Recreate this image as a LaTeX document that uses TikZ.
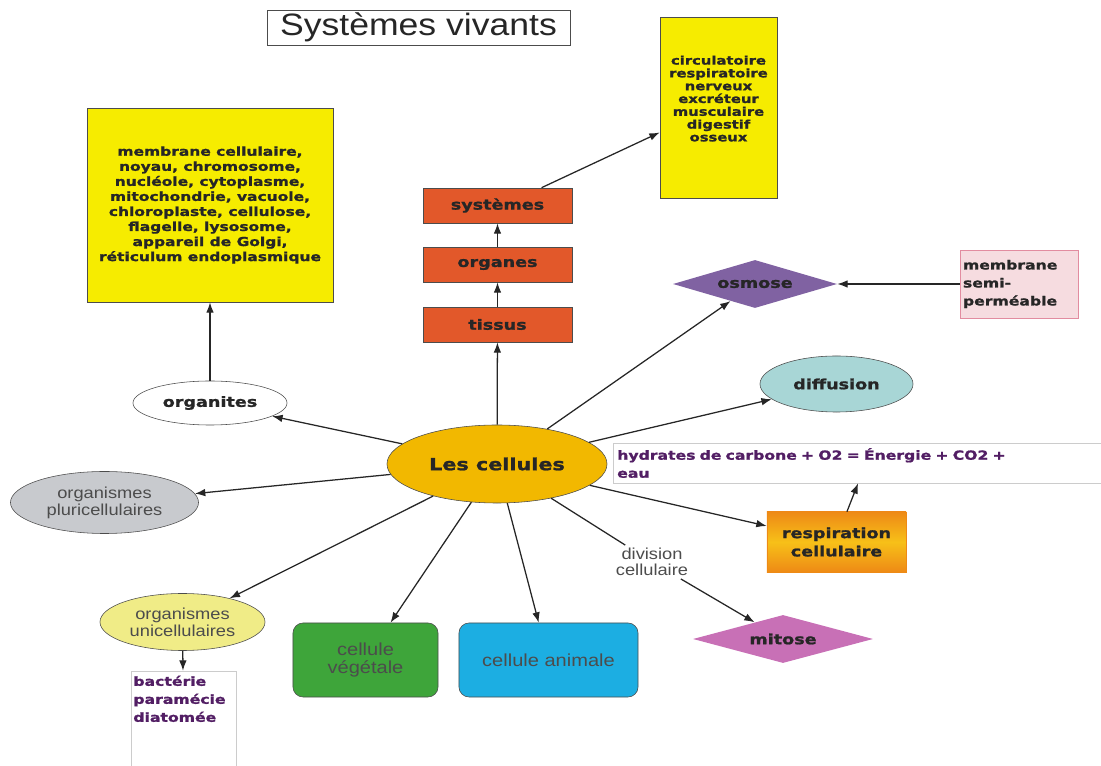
\documentclass[tikz,border=0pt]{standalone}
\usepackage{fontspec}
\setsansfont{Liberation Sans}[FakeStretch=1.15]
\newfontfamily\verd{DejaVu Sans}[FakeStretch=1.25, BoldFeatures={FakeBold=1.3}]
\usepackage{xcolor}
\usepackage{tikz}
\usetikzlibrary{arrows.meta,shapes.geometric}

\definecolor{jaune}{RGB}{246,236,0}
\definecolor{rouge}{RGB}{226,88,42}
\definecolor{ocre}{RGB}{242,184,0}
\definecolor{gris}{RGB}{200,202,206}
\definecolor{jaunepale}{RGB}{240,236,135}
\definecolor{vert}{RGB}{62,165,58}
\definecolor{bleu}{RGB}{28,174,226}
\definecolor{rose}{RGB}{200,112,182}
\definecolor{mauve}{RGB}{128,98,162}
\definecolor{turquoise}{RGB}{168,214,214}
\definecolor{rosepale}{RGB}{246,220,224}
\definecolor{rosefonce}{RGB}{226,140,160}
\definecolor{prune}{RGB}{82,30,100}
\definecolor{orhaut}{RGB}{238,138,22}
\definecolor{ormilieu}{RGB}{247,192,24}

\begin{document}
\begin{tikzpicture}[x=0.025cm, y=-0.025cm,
  every node/.style={inner sep=0pt},
  lbl/.style={font=\verd\bfseries\fontsize{10}{13}\selectfont, text=black!85},
  reg/.style={font=\sffamily\fontsize{11.3}{12}\selectfont, text=black!70},
  liste/.style={draw=black!70, fill=jaune, align=center, text=black!85},
  tissu/.style={draw=black!70, fill=rouge, lbl, minimum width=37.25mm, minimum height=8.75mm},
  bulle/.style={ellipse, draw=black!70},
  losange/.style={diamond, lbl},
  cadre/.style={draw=black!20, fill=white},
  notetxt/.style={font=\verd\bfseries\fontsize{8.9}{12.8}\selectfont, text=prune, align=left},
  arr/.style={-{Latex[length=2.6mm,width=1.9mm]}, draw=black!85, line width=0.9pt}
]
\useasboundingbox (0,0) rectangle (1101,766);

\node[draw=black!70, font=\sffamily\fontsize{22}{24}\selectfont, text=black!85, minimum width=75.75mm, minimum height=8.75mm] (titre) at (418.5,27.5) {Systèmes vivants};

\node[liste, minimum width=61.5mm, minimum height=48.5mm, font=\verd\bfseries\fontsize{8.8}{10.7}\selectfont] (orglist) at (210,205) {membrane cellulaire,\\ noyau, chromosome,\\ nucléole, cytoplasme,\\ mitochondrie, vacuole,\\ chloroplaste, cellulose,\\ flagelle, lysosome,\\ appareil de Golgi,\\ réticulum endoplasmique};
\node[liste, minimum width=29.25mm, minimum height=45.25mm, text depth=4.5mm, font=\verd\bfseries\fontsize{8.4}{9.1}\selectfont] (syslist) at (718.5,107.5) {circulatoire\\ respiratoire\\ nerveux\\ excréteur\\ musculaire\\ digestif\\ osseux};

\node[tissu] (systemes) at (497.5,205.5) {systèmes};
\node[tissu] (organes) at (497.5,264.5) {organes};
\node[tissu] (tissus) at (497.5,324.5) {tissus};

\node[bulle, fill=white, lbl, minimum width=38.5mm, minimum height=11mm] (organites) at (210,403) {organites};
\node[bulle, fill=ocre, lbl, font=\verd\bfseries\fontsize{11.8}{14}\selectfont, minimum width=55mm, minimum height=19.5mm] (cellules) at (497,464) {Les cellules};
\node[bulle, fill=gris, reg, align=center, minimum width=47mm, minimum height=15.5mm] (pluri) at (104.5,502.5) {organismes\\ pluricellulaires};
\node[bulle, fill=jaunepale, reg, align=center, minimum width=41.25mm, minimum height=14.25mm] (uni) at (182.5,622) {organismes\\ unicellulaires};

\node[cadre, minimum width=26.25mm, minimum height=25mm] (bact) at (183.5,721) {};
\node[notetxt, anchor=north west, inner xsep=0.6mm, inner ysep=1.2mm] (bacttxt) at (bact.north west) {bactérie\\ paramécie\\ diatomée};

\node[draw=black!70, fill=vert, rounded corners=2.5mm, reg, font=\sffamily\fontsize{12.4}{13}\selectfont, align=center, minimum width=36.25mm, minimum height=18.5mm] (vegetale) at (365.5,660) {cellule\\ végétale};
\node[draw=black!70, fill=bleu, rounded corners=2.5mm, reg, font=\sffamily\fontsize{12.4}{13}\selectfont, minimum width=44.75mm, minimum height=18.5mm] (animale) at (548.5,660) {cellule animale};

\node[losange, fill=rose, minimum width=45mm, minimum height=12mm, aspect=3.75] (mitose) at (783,639) {mitose};
\node[losange, fill=mauve, minimum width=41mm, minimum height=12mm, aspect=3.4] (osmose) at (755,284) {osmose};

\node[draw=orhaut, top color=orhaut, bottom color=orhaut, middle color=ormilieu, lbl, align=center, minimum width=34.75mm, minimum height=15mm] (resp) at (836.5,542) {respiration\\ cellulaire};
\node[cadre, notetxt, anchor=west, minimum width=130mm, minimum height=10mm, text width=128mm, inner xsep=0.5mm] (hydr) at (613,463) {hydrates de carbone + O2 = Énergie + CO2 +\\ eau};

\node[bulle, fill=turquoise, lbl, minimum width=38.25mm, minimum height=14mm] (diffusion) at (836.5,384) {diffusion};
\node[draw=rosefonce, fill=rosepale, notetxt, text=black!85, text width=28mm, inner xsep=0.75mm, minimum height=17mm] (membr) at (1019,284) {membrane\\ semi-\\ perméable};

\node[reg, align=center, inner sep=2pt, font=\sffamily\fontsize{11.3}{11.4}\selectfont] (division) at (652,562) {division\\ cellulaire};

\draw[arr] (cellules) -- (organites);
\draw[arr] (cellules) -- (pluri);
\draw[arr] (cellules) -- (uni);
\draw[arr] (cellules) -- (vegetale);
\draw[arr] (cellules) -- (animale);
\draw[draw=black!85, line width=0.9pt] (cellules) -- (division);
\draw[arr] (division) -- (mitose);
\draw[arr] (cellules) -- (resp);
\draw[arr] (cellules) -- (diffusion);
\draw[arr] (cellules) -- (osmose);
\draw[arr] (cellules) -- (tissus);
\draw[arr] (tissus) -- (organes);
\draw[arr] (organes) -- (systemes);
\draw[arr] (systemes.22) -- (syslist.203);
\draw[arr] (organites) -- (orglist);
\draw[arr] (uni) -- (bact);
\draw[arr] (membr) -- (osmose);
\draw[arr] (resp.71) -- ([xshift=61.25mm]hydr.south west);
\end{tikzpicture}
\end{document}
